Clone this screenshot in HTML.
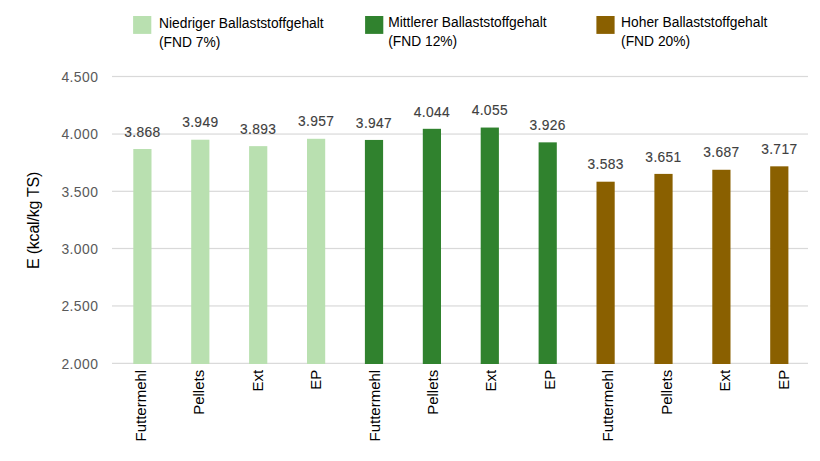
<!DOCTYPE html>
<html><head><meta charset="utf-8">
<style>
html,body{margin:0;padding:0;background:#fff;}
body{width:820px;height:461px;overflow:hidden;}
svg{display:block;}
text{font-family:"Liberation Sans",sans-serif;}
.tk{font-size:13.9px;letter-spacing:0.45px;fill:#595959;}
.dl{font-size:13.8px;letter-spacing:0.35px;fill:#404040;stroke:#404040;stroke-width:0.12px;}
.xl{font-size:15px;fill:#000;}
.yt{font-size:16px;letter-spacing:-0.22px;fill:#000;}
.lg{font-size:13.8px;fill:#000;}
</style></head><body>
<svg width="820" height="461" viewBox="0 0 820 461">
<rect x="112" y="362.75" width="696" height="1.2" fill="#d9d9d9"/>
<text x="98.4" y="368.75" text-anchor="end" class="tk">2.000</text>
<rect x="112" y="305.35" width="696" height="1.2" fill="#d9d9d9"/>
<text x="98.4" y="311.35" text-anchor="end" class="tk">2.500</text>
<rect x="112" y="247.90" width="696" height="1.2" fill="#d9d9d9"/>
<text x="98.4" y="253.90" text-anchor="end" class="tk">3.000</text>
<rect x="112" y="190.70" width="696" height="1.2" fill="#d9d9d9"/>
<text x="98.4" y="196.70" text-anchor="end" class="tk">3.500</text>
<rect x="112" y="133.45" width="696" height="1.2" fill="#d9d9d9"/>
<text x="98.4" y="139.45" text-anchor="end" class="tk">4.000</text>
<rect x="112" y="75.90" width="696" height="1.2" fill="#d9d9d9"/>
<text x="98.4" y="81.90" text-anchor="end" class="tk">4.500</text>
<rect x="133.30" y="149.00" width="18.2" height="215.00" fill="#b9e0b0"/>
<text x="142.40" y="136.70" text-anchor="middle" class="dl">3.868</text>
<text transform="translate(146.00,369.8) rotate(-90)" text-anchor="end" class="xl">Futtermehl</text>
<rect x="191.20" y="139.71" width="18.2" height="224.29" fill="#b9e0b0"/>
<text x="200.30" y="127.41" text-anchor="middle" class="dl">3.949</text>
<text transform="translate(204.41,369.8) rotate(-90)" text-anchor="end" class="xl">Pellets</text>
<rect x="249.10" y="146.14" width="18.2" height="217.86" fill="#b9e0b0"/>
<text x="258.20" y="133.84" text-anchor="middle" class="dl">3.893</text>
<text transform="translate(262.82,369.8) rotate(-90)" text-anchor="end" class="xl">Ext</text>
<rect x="307.00" y="138.79" width="18.2" height="225.21" fill="#b9e0b0"/>
<text x="316.10" y="126.49" text-anchor="middle" class="dl">3.957</text>
<text transform="translate(321.23,369.8) rotate(-90)" text-anchor="end" class="xl">EP</text>
<rect x="364.90" y="139.94" width="18.2" height="224.06" fill="#30822e"/>
<text x="374.00" y="127.64" text-anchor="middle" class="dl">3.947</text>
<text transform="translate(379.64,369.8) rotate(-90)" text-anchor="end" class="xl">Futtermehl</text>
<rect x="422.80" y="128.81" width="18.2" height="235.19" fill="#30822e"/>
<text x="431.90" y="116.51" text-anchor="middle" class="dl">4.044</text>
<text transform="translate(438.05,369.8) rotate(-90)" text-anchor="end" class="xl">Pellets</text>
<rect x="480.70" y="127.55" width="18.2" height="236.45" fill="#30822e"/>
<text x="489.80" y="115.25" text-anchor="middle" class="dl">4.055</text>
<text transform="translate(496.46,369.8) rotate(-90)" text-anchor="end" class="xl">Ext</text>
<rect x="538.60" y="142.35" width="18.2" height="221.65" fill="#30822e"/>
<text x="547.70" y="130.05" text-anchor="middle" class="dl">3.926</text>
<text transform="translate(554.87,369.8) rotate(-90)" text-anchor="end" class="xl">EP</text>
<rect x="596.50" y="181.70" width="18.2" height="182.30" fill="#8a6000"/>
<text x="605.60" y="169.40" text-anchor="middle" class="dl">3.583</text>
<text transform="translate(613.28,369.8) rotate(-90)" text-anchor="end" class="xl">Futtermehl</text>
<rect x="654.40" y="173.90" width="18.2" height="190.10" fill="#8a6000"/>
<text x="663.50" y="161.60" text-anchor="middle" class="dl">3.651</text>
<text transform="translate(671.69,369.8) rotate(-90)" text-anchor="end" class="xl">Pellets</text>
<rect x="712.30" y="169.77" width="18.2" height="194.23" fill="#8a6000"/>
<text x="721.40" y="157.47" text-anchor="middle" class="dl">3.687</text>
<text transform="translate(730.10,369.8) rotate(-90)" text-anchor="end" class="xl">Ext</text>
<rect x="770.20" y="166.33" width="18.2" height="197.67" fill="#8a6000"/>
<text x="779.30" y="154.03" text-anchor="middle" class="dl">3.717</text>
<text transform="translate(788.51,369.8) rotate(-90)" text-anchor="end" class="xl">EP</text>
<text transform="translate(39.3,220.4) rotate(-90)" text-anchor="middle" class="yt">E (kcal/kg TS)</text>
<rect x="133.10" y="16" width="18.2" height="17.9" fill="#b9e0b0"/>
<text x="159.00" y="28.2" class="lg">Niedriger Ballaststoffgehalt</text>
<text x="159.00" y="47.3" class="lg">(FND 7%)</text>
<rect x="365.10" y="16" width="18.2" height="17.9" fill="#30822e"/>
<text x="388.20" y="26.5" class="lg">Mittlerer Ballaststoffgehalt</text>
<text x="388.20" y="45.8" class="lg">(FND 12%)</text>
<rect x="596.40" y="16" width="18.2" height="17.9" fill="#8a6000"/>
<text x="621.10" y="26.5" class="lg">Hoher Ballaststoffgehalt</text>
<text x="621.10" y="45.8" class="lg">(FND 20%)</text>
</svg>
</body></html>
